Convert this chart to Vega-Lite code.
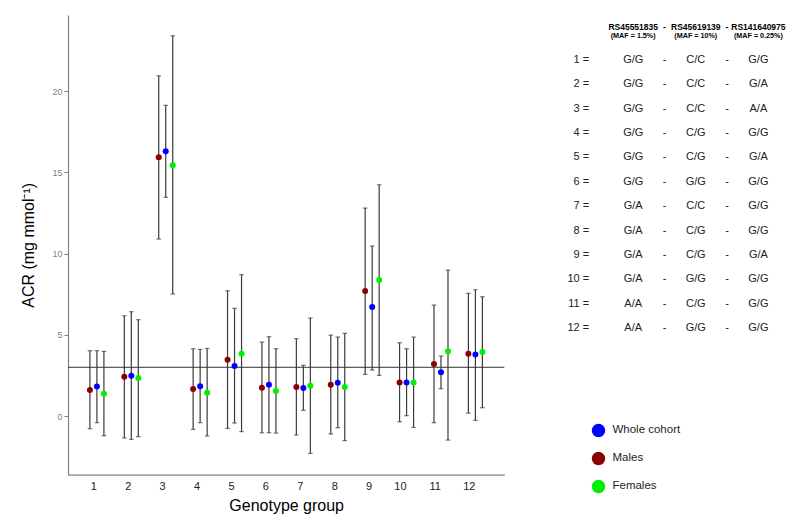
{
  "$schema": "https://vega.github.io/schema/vega-lite/v6.json",
  "padding": {"left": 20, "top": 15, "right": 5, "bottom": 5},
  "config": {"view": {"stroke": null}, "font": "Liberation Sans"},
  "spacing": 34.3,
  "datasets": {
    "acr": [
      {"group": 1, "series": "Males", "mean": 1.60, "lo": -0.78, "hi": 4.02},
      {"group": 1, "series": "Whole cohort", "mean": 1.81, "lo": -0.41, "hi": 4.02},
      {"group": 1, "series": "Females", "mean": 1.37, "lo": -1.21, "hi": 3.98},
      {"group": 2, "series": "Males", "mean": 2.42, "lo": -1.35, "hi": 6.17},
      {"group": 2, "series": "Whole cohort", "mean": 2.48, "lo": -1.44, "hi": 6.42},
      {"group": 2, "series": "Females", "mean": 2.34, "lo": -1.27, "hi": 5.93},
      {"group": 3, "series": "Males", "mean": 15.92, "lo": 10.89, "hi": 20.94},
      {"group": 3, "series": "Whole cohort", "mean": 16.29, "lo": 13.46, "hi": 19.12},
      {"group": 3, "series": "Females", "mean": 15.43, "lo": 7.51, "hi": 23.40},
      {"group": 4, "series": "Males", "mean": 1.66, "lo": -0.82, "hi": 4.14},
      {"group": 4, "series": "Whole cohort", "mean": 1.83, "lo": -0.41, "hi": 4.10},
      {"group": 4, "series": "Females", "mean": 1.43, "lo": -1.23, "hi": 4.16},
      {"group": 5, "series": "Males", "mean": 3.47, "lo": -0.76, "hi": 7.71},
      {"group": 5, "series": "Whole cohort", "mean": 3.08, "lo": -0.43, "hi": 6.63},
      {"group": 5, "series": "Females", "mean": 3.84, "lo": -0.96, "hi": 8.70},
      {"group": 6, "series": "Males", "mean": 1.74, "lo": -1.03, "hi": 4.55},
      {"group": 6, "series": "Whole cohort", "mean": 1.93, "lo": -1.03, "hi": 4.88},
      {"group": 6, "series": "Females", "mean": 1.54, "lo": -1.05, "hi": 4.14},
      {"group": 7, "series": "Males", "mean": 1.78, "lo": -1.17, "hi": 4.76},
      {"group": 7, "series": "Whole cohort", "mean": 1.72, "lo": 0.35, "hi": 3.12},
      {"group": 7, "series": "Females", "mean": 1.87, "lo": -2.30, "hi": 6.03},
      {"group": 8, "series": "Males", "mean": 1.93, "lo": -1.11, "hi": 4.98},
      {"group": 8, "series": "Whole cohort", "mean": 2.05, "lo": -0.72, "hi": 4.86},
      {"group": 8, "series": "Females", "mean": 1.78, "lo": -1.51, "hi": 5.09},
      {"group": 9, "series": "Males", "mean": 7.69, "lo": 2.56, "hi": 12.80},
      {"group": 9, "series": "Whole cohort", "mean": 6.71, "lo": 2.83, "hi": 10.46},
      {"group": 9, "series": "Females", "mean": 8.37, "lo": 2.50, "hi": 14.23},
      {"group": 10, "series": "Males", "mean": 2.07, "lo": -0.35, "hi": 4.51},
      {"group": 10, "series": "Whole cohort", "mean": 2.07, "lo": 0.02, "hi": 4.14},
      {"group": 10, "series": "Females", "mean": 2.07, "lo": -0.70, "hi": 4.86},
      {"group": 11, "series": "Males", "mean": 3.20, "lo": -0.41, "hi": 6.83},
      {"group": 11, "series": "Whole cohort", "mean": 2.69, "lo": 1.68, "hi": 3.69},
      {"group": 11, "series": "Females", "mean": 3.98, "lo": -1.48, "hi": 8.98},
      {"group": 12, "series": "Males", "mean": 3.84, "lo": 0.18, "hi": 7.55},
      {"group": 12, "series": "Whole cohort", "mean": 3.78, "lo": -0.27, "hi": 7.77},
      {"group": 12, "series": "Females", "mean": 3.94, "lo": 0.51, "hi": 7.34}
    ],
    "ref": [{"value": 3}],
    "table": [
      {"row": 1, "lab": "1 =", "a": "G/G", "b": "C/C", "c": "G/G"},
      {"row": 2, "lab": "2 =", "a": "G/G", "b": "C/C", "c": "G/A"},
      {"row": 3, "lab": "3 =", "a": "G/G", "b": "C/C", "c": "A/A"},
      {"row": 4, "lab": "4 =", "a": "G/G", "b": "C/G", "c": "G/G"},
      {"row": 5, "lab": "5 =", "a": "G/G", "b": "C/G", "c": "G/A"},
      {"row": 6, "lab": "6 =", "a": "G/G", "b": "G/G", "c": "G/G"},
      {"row": 7, "lab": "7 =", "a": "G/A", "b": "C/C", "c": "G/G"},
      {"row": 8, "lab": "8 =", "a": "G/A", "b": "C/G", "c": "G/G"},
      {"row": 9, "lab": "9 =", "a": "G/A", "b": "C/G", "c": "G/A"},
      {"row": 10, "lab": "10 =", "a": "G/A", "b": "G/G", "c": "G/G"},
      {"row": 11, "lab": "11 =", "a": "A/A", "b": "C/G", "c": "G/G"},
      {"row": 12, "lab": "12 =", "a": "A/A", "b": "G/G", "c": "G/G"}
    ],
    "header": [
      {"col": "a", "name": "RS45551835", "maf": "(MAF = 1.5%)"},
      {"col": "b", "name": "RS45619139", "maf": "(MAF = 10%)"},
      {"col": "c", "name": "RS141640975", "maf": "(MAF = 0.25%)"}
    ]
  },
  "hconcat": [
    {
      "width": 436.3,
      "height": 459.7,
      "layer": [
        {
          "data": {"name": "ref"},
          "mark": {"type": "rule", "color": "#333333", "strokeWidth": 1},
          "encoding": {
            "y": {"field": "value", "type": "quantitative"}
          }
        },
        {
          "data": {"name": "acr"},
          "mark": {"type": "rule", "color": "#3a3a3a", "strokeWidth": 1.2},
          "encoding": {
            "x": {"field": "group", "type": "ordinal"},
            "xOffset": {"field": "series", "type": "nominal"},
            "y": {"field": "lo", "type": "quantitative"},
            "y2": {"field": "hi"}
          }
        },
        {
          "data": {"name": "acr"},
          "mark": {"type": "tick", "orient": "horizontal", "color": "#3a3a3a", "thickness": 1.2, "size": 4.5},
          "encoding": {
            "x": {"field": "group", "type": "ordinal"},
            "xOffset": {"field": "series", "type": "nominal"},
            "y": {"field": "lo", "type": "quantitative"}
          }
        },
        {
          "data": {"name": "acr"},
          "mark": {"type": "tick", "orient": "horizontal", "color": "#3a3a3a", "thickness": 1.2, "size": 4.5},
          "encoding": {
            "x": {"field": "group", "type": "ordinal"},
            "xOffset": {"field": "series", "type": "nominal"},
            "y": {"field": "hi", "type": "quantitative"}
          }
        },
        {
          "data": {"name": "acr"},
          "mark": {"type": "point", "filled": true, "opacity": 1, "size": 36, "shape": "circle"},
          "encoding": {
            "x": {
              "field": "group", "type": "ordinal",
              "scale": {"type": "band", "paddingInner": 0, "paddingOuter": 0.34},
              "title": "Genotype group",
              "axis": {"labelAngle": 0, "ticks": false, "tickSize": 0, "labelFontSize": 11, "labelColor": "#222222", "labelPadding": 12, "domainColor": "#808080", "domainWidth": 1.2, "titleFontSize": 16, "titleFontWeight": "normal", "titleColor": "#000000", "titlePadding": 6}
            },
            "xOffset": {
              "field": "series", "type": "nominal",
              "scale": {"domain": ["Males", "Whole cohort", "Females"], "paddingInner": 0, "paddingOuter": 0.957}
            },
            "y": {
              "field": "mean", "type": "quantitative",
              "scale": {"domain": [-3.61, 24.68], "nice": false, "zero": false},
              "title": "ACR (mg mmol⁻¹)",
              "axis": {"values": [0, 5, 10, 15, 20], "grid": false, "labelFontSize": 9, "labelColor": "#7f7f7f", "tickColor": "#7f7f7f", "tickSize": 4, "labelPadding": 2, "domainColor": "#808080", "domainWidth": 1.2, "titleFontSize": 16, "titleFontWeight": "normal", "titleColor": "#000000", "titlePadding": 15}
            },
            "color": {
              "field": "series", "type": "nominal",
              "scale": {"domain": ["Whole cohort", "Males", "Females"], "range": ["#0000ff", "#8b0000", "#00ee00"]},
              "legend": {"orient": "none", "legendX": 523.5, "legendY": 408.5, "title": null, "padding": 0, "symbolType": "circle", "symbolSize": 180, "symbolStrokeWidth": 0, "labelFontSize": 11.5, "labelColor": "#222222", "rowPadding": 14, "labelOffset": 7}
            }
          }
        }
      ]
    },
    {
      "width": 219.1,
      "height": 459.7,
      "layer": [
        {
          "data": {"name": "table"},
          "mark": {"type": "text", "align": "right", "baseline": "middle", "dx": -12.7, "fontSize": 11, "color": "#222222"},
          "encoding": {
            "x": {"datum": "label", "type": "ordinal", "axis": null,
              "scale": {"type": "point", "domain": ["label", "a", "d1", "b", "d2", "c"], "padding": 1, "align": 1}},
            "y": {"field": "row", "type": "quantitative", "axis": null,
              "scale": {"domain": [-0.847, 18.02], "reverse": true, "nice": false, "zero": false}},
            "text": {"field": "lab"}
          }
        },
        {
          "data": {"name": "table"},
          "transform": [{"fold": ["a", "b", "c"], "as": ["key", "geno"]}],
          "mark": {"type": "text", "align": "center", "baseline": "middle", "fontSize": 11, "color": "#222222"},
          "encoding": {
            "x": {"field": "key", "type": "ordinal"},
            "y": {"field": "row", "type": "quantitative"},
            "text": {"field": "geno"}
          }
        },
        {
          "data": {"name": "table"},
          "mark": {"type": "text", "align": "center", "baseline": "middle", "fontSize": 11, "color": "#222222", "text": "-"},
          "encoding": {
            "x": {"datum": "d1", "type": "ordinal"},
            "y": {"field": "row", "type": "quantitative"}
          }
        },
        {
          "data": {"name": "table"},
          "mark": {"type": "text", "align": "center", "baseline": "middle", "fontSize": 11, "color": "#222222", "text": "-"},
          "encoding": {
            "x": {"datum": "d2", "type": "ordinal"},
            "y": {"field": "row", "type": "quantitative"}
          }
        },
        {
          "data": {"name": "header"},
          "mark": {"type": "text", "align": "center", "baseline": "middle", "fontSize": 8.5, "fontWeight": "bold", "color": "#000000"},
          "encoding": {
            "x": {"field": "col", "type": "ordinal"},
            "y": {"datum": -0.354, "type": "quantitative"},
            "text": {"field": "name"}
          }
        },
        {
          "data": {"name": "header"},
          "mark": {"type": "text", "align": "center", "baseline": "middle", "fontSize": 7.2, "fontWeight": "bold", "color": "#000000"},
          "encoding": {
            "x": {"field": "col", "type": "ordinal"},
            "y": {"datum": 0.003, "type": "quantitative"},
            "text": {"field": "maf"}
          }
        },
        {
          "data": {"values": [{"d": "d1"}, {"d": "d2"}]},
          "mark": {"type": "text", "align": "center", "baseline": "middle", "fontSize": 9, "fontWeight": "bold", "color": "#000000", "text": "-"},
          "encoding": {
            "x": {"field": "d", "type": "ordinal"},
            "y": {"datum": -0.354, "type": "quantitative"}
          }
        }
      ]
    }
  ]
}
